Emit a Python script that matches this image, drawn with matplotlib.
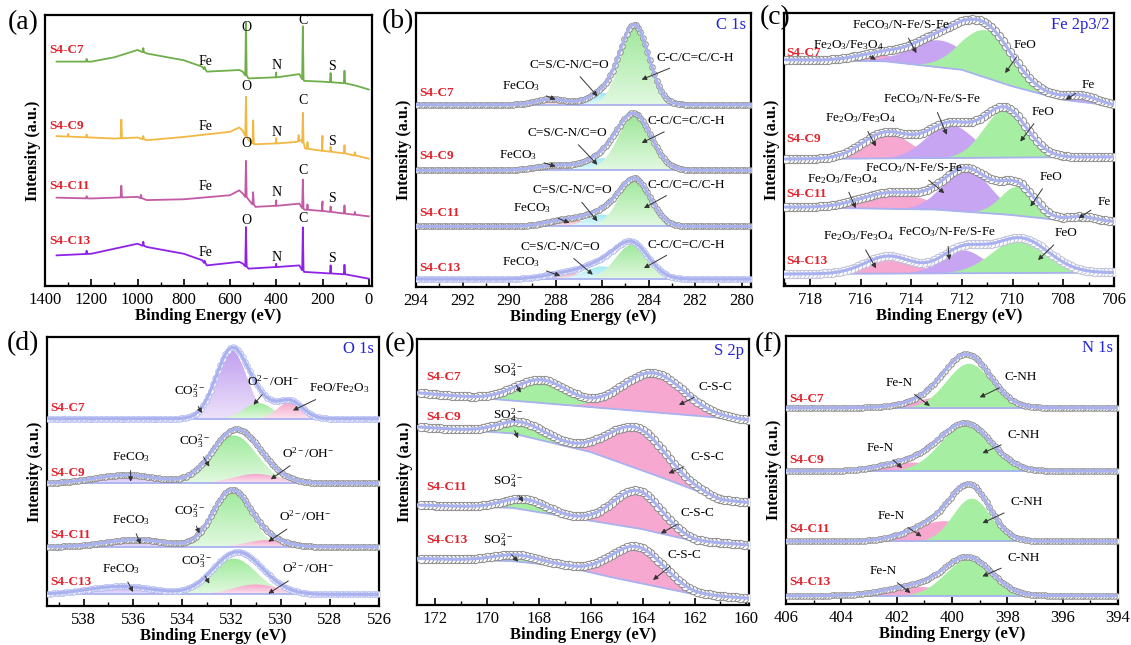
import numpy as np
import matplotlib.pyplot as plt
from matplotlib.colors import LinearSegmentedColormap, to_rgb
from matplotlib.patches import Polygon

plt.rcParams['font.family'] = ['Liberation Serif', 'DejaVu Serif']
plt.rcParams['mathtext.fontset'] = 'custom'
plt.rcParams['mathtext.rm'] = 'Liberation Serif'
plt.rcParams['mathtext.it'] = 'Liberation Serif:italic'
plt.rcParams['mathtext.bf'] = 'Liberation Serif:bold'

samples = ["S4-C7", "S4-C9", "S4-C11", "S4-C13"]

# ==============================
# (a) survey: background knots (eV, intensity) and sharp lines (eV, height)
# ==============================
survey_bg = [
    [(1350, 82.8), (1200, 82.8), (1100, 84.4), (1000, 87.1), (960, 85.8), (800, 83.3), (720, 80.9),
     (700, 79.1), (560, 79.7), (545, 79.1), (520, 76.6), (400, 77.0), (300, 78.2), (280, 75.7),
     (200, 75.4), (100, 74.8), (50, 73.8), (0, 72.5)],
    [(1350, 55.3), (1200, 54.8), (1100, 54.4), (1000, 54.8), (960, 53.8), (800, 55.0), (600, 56.9),
     (560, 58.5), (545, 57.3), (520, 53.8), (495, 52.3), (400, 52.6), (310, 53.2), (290, 54.0),
     (275, 50.7), (200, 49.9), (100, 48.9), (0, 47.0)],
    [(1350, 32.6), (1200, 32.3), (1000, 32.9), (960, 31.7), (800, 32.0), (600, 33.5), (560, 35.3),
     (545, 34.1), (520, 31.9), (490, 29.2), (400, 29.6), (300, 30.4), (280, 28.2), (200, 27.7),
     (100, 26.7), (0, 25.7)],
    [(1350, 11.3), (1200, 11.9), (1000, 15.6), (960, 14.4), (800, 11.9), (720, 9.5), (700, 7.6),
     (560, 8.9), (545, 8.3), (520, 6.4), (400, 7.0), (300, 7.6), (280, 5.2), (200, 4.8),
     (100, 4.3), (0, 2.7)],
]
survey_lines = [
    [(1220, 1.0), (975, 1.5), (710, 0.8), (531, 19.5), (400, 1.8), (285, 19.5), (165, 3.4), (105, 4.6)],
    [(1300, 1.0), (1220, 1.0), (1070, 6.9), (975, 1.2), (531, 14.5), (500, 8.5), (400, 2.0),
     (303, 2.2), (285, 11.0), (265, 2.5), (200, 5.5), (165, 1.8), (105, 3.0), (60, 1.2)],
    [(1220, 0.8), (1070, 4.3), (985, 1.2), (531, 13.3), (500, 4.5), (400, 2.0), (285, 10.5),
     (265, 2.0), (200, 3.5), (165, 2.0), (105, 3.0), (60, 1.0)],
    [(1220, 1.2), (975, 1.5), (710, 0.8), (531, 14.5), (400, 1.2), (285, 15.8), (165, 3.0), (105, 3.5)],
]
survey_labels = ["Fe", "O", "N", "C", "S"]

# ==============================
# core levels: baselines (knots) and peaks (centre eV, height, FWHM)
# ==============================
c1s_names = ["FeCO$_3$", "C=S/C-N/C=O", "C-C/C=C/C-H"]
c1s_base = [[(294, 66.5), (279, 66.5)], [(294, 42.6), (279, 42.6)],
            [(294, 22.1), (279, 22.1)], [(294, 2.9), (279, 2.9)]]
c1s_peaks = [
    [(288.2, 2.1, 1.5), (285.9, 4.3, 1.6), (284.6, 28.6, 1.45)],
    [(288.0, 1.8, 2.0), (285.9, 4.5, 1.8), (284.6, 19.7, 1.7)],
    [(287.5, 2.5, 2.0), (286.0, 4.3, 1.6), (284.6, 17.1, 1.6)],
    [(287.5, 2.2, 2.2), (286.0, 4.6, 1.8), (284.7, 12.6, 1.7)],
]

fe_names = ["Fe$_2$O$_3$/Fe$_3$O$_4$", "FeCO$_3$/N-Fe/S-Fe", "FeO", "Fe"]
fe_base = [
    [(719, 82.9), (715, 82.3), (712, 79.2), (710, 73.1), (708, 68.2), (706, 66.0)],
    [(719, 46.5), (706, 47.3)],
    [(719, 28.9), (713, 28.0), (710, 26.0), (708, 24.0), (706, 23.6)],
    [(719, 4.4), (706, 4.9)],
]
fe_peaks = [
    [(715.3, 2.5, 2.2), (712.9, 10.0, 2.6), (711.0, 17.5, 2.4), (707.3, 2.5, 1.6)],
    [(715.0, 9.4, 2.2), (712.5, 12.3, 2.2), (710.3, 17.8, 2.0), (707.3, 0.0, 1.3)],
    [(714.7, 6.0, 3.0), (711.8, 15.5, 2.2), (709.8, 10.7, 1.6), (707.3, 1.6, 1.3)],
    [(714.9, 6.4, 2.2), (712.0, 8.6, 2.0), (709.7, 12.7, 2.6), (707.3, 0.0, 1.3)],
]

o1s_base = [[(540, 69.6), (526, 69.6)], [(540, 45.6), (526, 45.6)],
            [(540, 22.0), (526, 22.0)], [(540, 4.3), (526, 4.3)]]
o1s_peaks = [
    [(532.0, 25.4, 1.5), (530.9, 5.8, 1.4), (529.6, 6.4, 1.2)],
    [(536.3, 3.1, 3.0), (531.9, 17.8, 2.2), (531.0, 3.5, 2.2)],
    [(535.9, 2.7, 2.8), (532.0, 20.7, 1.8), (530.6, 2.5, 1.8)],
    [(536.5, 3.0, 3.2), (531.9, 13.3, 2.2), (531.0, 3.7, 2.2)],
]

s2p_base = [
    [(172.7, 79.8), (159.9, 69.5)],
    [(172.7, 67.0), (169, 64.5), (166, 57.5), (163, 47.0), (161, 39.5), (159.9, 38.5)],
    [(172.7, 37.6), (169, 36.5), (166.5, 32.5), (164, 28.5), (162, 24.0), (159.9, 22.6)],
    [(172.7, 17.5), (169, 16.5), (167, 14.5), (165, 10.0), (162, 4.0), (159.9, 2.5)],
]
s2p_peaks = [
    [(167.9, 8.7, 2.4), (163.6, 14.8, 2.8)],
    [(168.6, 5.0, 2.2), (164.2, 15.4, 2.6)],
    [(168.5, 4.0, 2.0), (164.2, 14.2, 2.2)],
    [(168.8, 2.5, 2.2), (164.2, 13.5, 2.4)],
]

n1s_base = [[(406, 73.2), (394, 73.2)], [(406, 49.6), (394, 49.6)],
            [(406, 23.4), (394, 23.4)], [(406, 3.1), (394, 3.1)]]
n1s_peaks = [
    [(400.2, 4.4, 2.6), (399.4, 16.6, 1.9)],
    [(401.5, 3.4, 2.4), (399.5, 17.4, 2.2)],
    [(400.3, 7.7, 2.6), (399.3, 16.1, 1.6)],
    [(401.3, 3.5, 2.6), (399.4, 13.7, 2.0)],
]

# ==============================
# styles
# ==============================
FIT = '#a9b2ef'
GREY = '#8a8a8a'
LAV = '#b3baf0'
RED = '#e3202a'
BLUE = '#2424d8'
GREEN = '#a6efa2'
PINK = '#f6a8d0'
PURPLE = '#c8a5f2'
survey_colors = ['#6fae48', '#f2b843', '#c35aa5', '#8e22e6']


def gauss(x, c, h, w):
    return h * np.exp(-4 * np.log(2) * (x - c) ** 2 / w ** 2)


def ax_px(fig, l, t, r, b):
    W, H = 1131, 645
    return fig.add_axes([l / W, 1 - b / H, (r - l) / W, (b - t) / H])


def style_axes(ax, xlim, major, minor):
    ax.set_xlim(*xlim)
    ax.set_ylim(0, 100)
    ax.set_yticks([])
    lo, hi = min(xlim), max(xlim)
    ax.set_xticks(np.arange(np.ceil(lo / major - 1e-6) * major, hi + 1e-6, major))
    ax.set_xticks(np.arange(np.ceil(lo / minor - 1e-6) * minor, hi + 1e-6, minor), minor=True)
    ax.tick_params(axis='x', which='major', direction='in', length=5, width=1.2, labelsize=12, pad=4)
    ax.tick_params(axis='x', which='minor', direction='in', length=3, width=1.0)
    for s in ax.spines.values():
        s.set_linewidth(1.6)
    ax.set_xlabel("Binding Energy (eV)", fontsize=12, fontweight='bold', labelpad=0)
    ax.set_ylabel("Intensity (a.u.)", fontsize=11.5, fontweight='bold', labelpad=3)


def grad_fill(ax, x, lo_y, hi_y, color):
    verts = np.column_stack([np.concatenate([x, x[::-1]]), np.concatenate([hi_y, lo_y[::-1]])])
    patch = Polygon(verts, closed=True, facecolor='none', edgecolor='none')
    ax.add_patch(patch)
    c = np.array(to_rgb(color))
    pale = 1 - 0.3 * (1 - c)
    cmap = LinearSegmentedColormap.from_list('g', [pale, c])
    grad = np.linspace(0, 1, 256).reshape(-1, 1)
    im = ax.imshow(grad, cmap=cmap, aspect='auto', origin='lower',
                   extent=[x.min(), x.max(), lo_y.min(), hi_y.max()], zorder=1)
    im.set_clip_path(patch)


def draw_core(ax, xlim, bases, peaks, colors, circ, step, ms, gradient=False):
    lo, hi = min(xlim), max(xlim)
    x = np.arange(lo, hi + 0.02, 0.02)
    for i in range(4):
        kx, ky = zip(*sorted(bases[i]))
        base = np.interp(x, kx, ky)
        env = base.copy()
        for j, (c, h, w) in enumerate(peaks[i]):
            g = gauss(x, c, h, w)
            env += g
            if h <= 0:
                continue
            if gradient:
                m = g > 0.01
                grad_fill(ax, x[m], base[m], base[m] + g[m], colors[i][j])
            else:
                ax.fill_between(x, base, base + g, color=colors[i][j], lw=0, zorder=1)
        ax.plot(x, base, color=FIT, lw=1.3, zorder=2)
        xs = np.arange(lo + 0.05, hi, step)
        ax.plot(xs, np.interp(xs, x, env), 'o', ms=ms, mfc='white', mec=circ[i], mew=0.7, zorder=3)
        ax.plot(x, env, color=FIT, lw=2.2, zorder=4)


def annotate_all(ax, items):
    for lab, tx, ty, lx, ly in items:
        ax.annotate(lab, xy=(tx, ty), xytext=(lx, ly), ha='center', va='center', fontsize=9.5,
                    arrowprops=dict(arrowstyle='-|>', color='#333333', lw=0.7,
                                    mutation_scale=7, shrinkA=3, shrinkB=0), zorder=6)


def sample_labels(ax, xfrac, yvals):
    for name, y in zip(samples, yvals):
        ax.text(xfrac, y, name, transform=ax.get_yaxis_transform(), color=RED,
                fontsize=9.5, fontweight='bold', va='center', ha='left', zorder=7)


def title(ax, text):
    ax.text(0.985, 0.955, text, transform=ax.transAxes, color=BLUE, fontsize=12,
            ha='right', va='center', zorder=7)


fig = plt.figure(figsize=(11.31, 6.45), dpi=100)

# ---------- (a) survey ----------
ax = ax_px(fig, 45, 15, 372, 286)
for i in range(4):
    knots = sorted(survey_bg[i])
    kx, ky = zip(*knots)
    pts = list(knots)
    for xs, h in survey_lines[i]:
        b = np.interp(xs, kx, ky)
        pts += [(xs - 3, b), (xs, b + h), (xs + 3, b)]
    pts.sort()
    px, py = zip(*pts)
    ax.plot(px, py, color=survey_colors[i], lw=1.3)
style_axes(ax, (1400, -14), 200, 100)
lab_y = [[82.8, 95.4, 81.2, 97.9, 80.9], [58.7, 73.8, 56.5, 68.3, 53.2],
         [36.6, 52.6, 34.4, 42.7, 32.3], [12.2, 24.3, 10.5, 24.9, 10.1]]
lab_x = [705, 531, 400, 284, 158]
for i in range(4):
    for lab, lx, ly in zip(survey_labels, lab_x, lab_y[i]):
        ax.text(lx, ly, lab, fontsize=10, ha='center', va='center')
sample_labels(ax, 0.013, [87.1, 59.0, 37.0, 16.6])

# ---------- (b) C 1s ----------
ax = ax_px(fig, 416, 13, 751, 287)
xl = (294, 279.6)
cols = [['#f2a9b6', '#9fe9f3', '#9ee89a']] * 4
draw_core(ax, xl, c1s_base, c1s_peaks, cols, [GREY, GREY, GREY, LAV], 0.1, 4, gradient=True)
style_axes(ax, xl, 2, 1)
title(ax, "C 1s")
sample_labels(ax, 0.01, [70.8, 47.7, 27.0, 6.9])
annotate_all(ax, [
    (c1s_names[2], 284.3, 75.7, 282.0, 83.6), (c1s_names[1], 286.2, 69.6, 287.4, 81.1),
    (c1s_names[0], 288.0, 68.4, 289.5, 73.5),
    (c1s_names[2], 284.3, 52.6, 282.4, 60.5), (c1s_names[1], 286.2, 44.6, 287.5, 56.2),
    (c1s_names[0], 288.0, 44.0, 289.6, 48.3),
    (c1s_names[2], 284.2, 28.8, 282.4, 37.3), (c1s_names[1], 286.2, 24.0, 287.3, 35.3),
    (c1s_names[0], 287.4, 23.4, 289.0, 28.8),
    (c1s_names[2], 284.2, 6.9, 282.4, 15.5), (c1s_names[1], 286.4, 4.5, 287.8, 14.6),
    (c1s_names[0], 287.8, 4.1, 289.5, 9.1),
])

# ---------- (c) Fe 2p3/2 ----------
ax = ax_px(fig, 784, 13, 1114, 286)
xl = (719.03, 706)
cols = [[PINK, PURPLE, GREEN, '#dca6f0']] * 4
draw_core(ax, xl, fe_base, fe_peaks, cols, [GREY, GREY, GREY, '#c0c0d8'], 0.15, 6)
style_axes(ax, xl, 2, 1)
title(ax, "Fe 2p3/2")
sample_labels(ax, 0.008, [85.3, 53.8, 33.8, 9.3])
annotate_all(ax, [
    (fe_names[1], 713.8, 85.3, 714.4, 95.7), (fe_names[0], 715.4, 82.9, 716.5, 88.4),
    (fe_names[2], 710.3, 78.0, 709.5, 88.4), (fe_names[3], 707.9, 68.2, 707.0, 73.7),
    (fe_names[1], 712.7, 34.0, 713.9, 43.3), (fe_names[0], 716.2, 28.5, 716.7, 39.3),
    (fe_names[2], 709.3, 29.1, 708.5, 40.1), (fe_names[3], 707.4, 24.8, 706.4, 30.9),
    (fe_names[1], 712.6, 55.4, 713.2, 68.5), (fe_names[0], 715.4, 51.1, 716.0, 61.5),
    (fe_names[2], 709.7, 52.9, 708.8, 63.9),
    (fe_names[1], 712.5, 9.5, 712.6, 19.6), (fe_names[0], 715.4, 6.5, 716.1, 18.1),
    (fe_names[2], 709.0, 9.5, 707.9, 19.3),
])

# ---------- (d) O 1s ----------
ax = ax_px(fig, 47, 337, 379, 606)
xl = (539.5, 526.0)
cols = [['#c19ff0', '#9fea9b', '#f5a2c9']] * 4
draw_core(ax, xl, o1s_base, o1s_peaks, cols, [LAV, GREY, GREY, LAV], 0.1, 4, gradient=True)
style_axes(ax, xl, 2, 1)
title(ax, "O 1s")
sample_labels(ax, 0.01, [73.5, 49.6, 26.3, 8.9])
co3 = "CO$_3^{2-}$"
oh = "O$^{2-}$/OH$^{-}$"
annotate_all(ax, [
    (co3, 533.2, 71.7, 533.7, 79.8), (oh, 531.1, 74.8, 530.3, 83.5),
    ("FeO/Fe$_2$O$_3$", 529.5, 72.7, 527.6, 81.0),
    ("FeCO$_3$", 536.1, 46.2, 536.1, 55.5), (co3, 532.9, 51.8, 533.5, 61.1), (oh, 530.4, 47.1, 528.9, 56.8),
    ("FeCO$_3$", 535.7, 23.0, 536.1, 31.9), (co3, 533.3, 27.0, 533.7, 35.4), (oh, 530.5, 23.9, 529.0, 33.2),
    ("FeCO$_3$", 536.0, 5.2, 536.5, 13.9), (co3, 532.9, 8.3, 533.4, 16.8), (oh, 530.5, 4.6, 528.9, 13.9),
])

# ---------- (e) S 2p ----------
ax = ax_px(fig, 417, 339, 749, 605)
xl = (172.7, 159.9)
cols = [[GREEN, PINK]] * 4
draw_core(ax, xl, s2p_base, s2p_peaks, cols, [GREY] * 4, 0.15, 6)
style_axes(ax, xl, 2, 1)
title(ax, "S 2p")
sample_labels(ax, 0.028, [85.8, 70.8, 44.5, 24.4])
so4 = "SO$_4^{2-}$"
annotate_all(ax, [
    (so4, 168.7, 79.8, 169.2, 88.3), ("C-S-C", 162.6, 75.2, 161.2, 82.1),
    (so4, 168.8, 62.7, 169.2, 71.4), ("C-S-C", 163.0, 49.5, 161.5, 55.8),
    (so4, 168.6, 38.8, 169.2, 46.7), ("C-S-C", 163.3, 26.9, 161.9, 34.5),
    (so4, 168.8, 16.3, 169.6, 24.4), ("C-S-C", 163.6, 9.4, 162.4, 18.8),
])

# ---------- (f) N 1s ----------
ax = ax_px(fig, 786, 336, 1118, 604)
xl = (406, 394)
cols = [[PINK, GREEN]] * 4
draw_core(ax, xl, n1s_base, n1s_peaks, cols, [GREY] * 4, 0.1, 4)
style_axes(ax, xl, 2, 1)
title(ax, "N 1s")
sample_labels(ax, 0.01, [76.6, 53.7, 27.9, 8.1])
annotate_all(ax, [
    ("Fe-N", 400.8, 73.9, 401.9, 82.4), ("C-NH", 399.0, 77.1, 397.5, 84.6),
    ("Fe-N", 401.8, 50.7, 402.6, 58.1), ("C-NH", 398.9, 56.3, 397.4, 63.1),
    ("Fe-N", 401.1, 25.2, 402.2, 32.7), ("C-NH", 398.9, 30.2, 397.3, 37.9),
    ("Fe-N", 401.5, 4.1, 402.5, 12.2), ("C-NH", 398.9, 10.3, 397.4, 17.1),
])

# panel letters
for lab, x, y in [("(a)", 8, 23), ("(b)", 382, 22), ("(c)", 760, 18),
                  ("(d)", 7, 344), ("(e)", 385, 345), ("(f)", 755, 345)]:
    fig.text(x / 1131, 1 - y / 645, lab, fontsize=20, ha='left', va='center')

fig.savefig("out.png", dpi=100)
